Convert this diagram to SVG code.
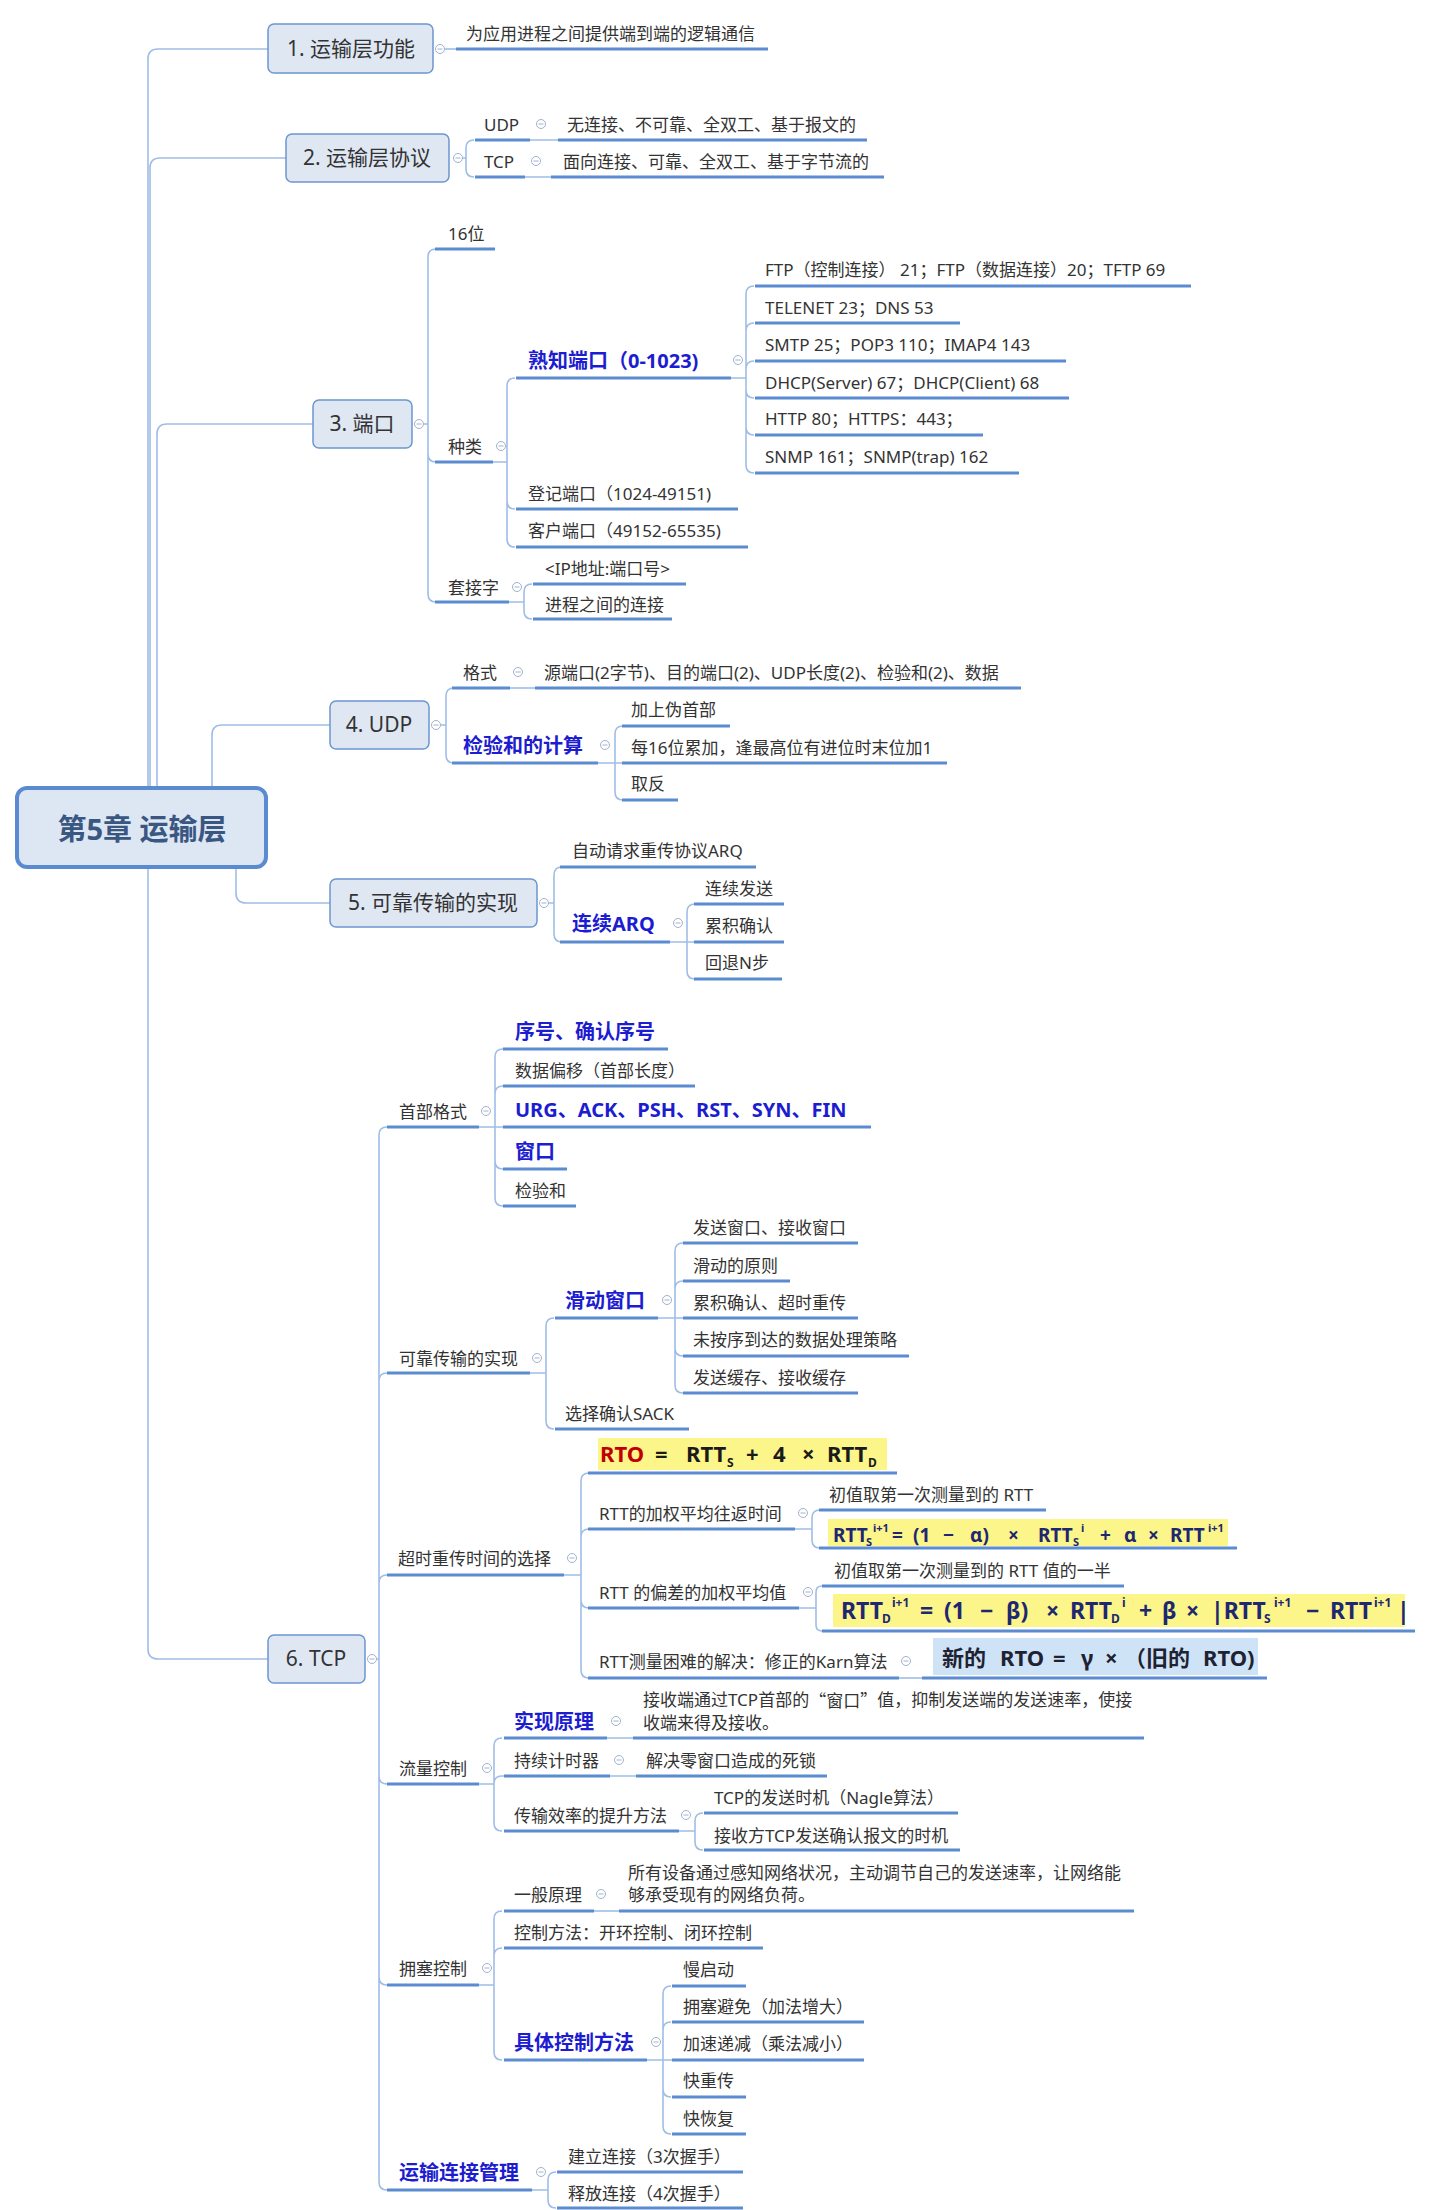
<svg xmlns="http://www.w3.org/2000/svg" xmlns:xlink="http://www.w3.org/1999/xlink" width="1434" height="2210" viewBox="0 0 1434 2210">
<style>
.c{fill:none;stroke:#9fbde6;stroke-width:1.6}
.u{fill:none;stroke:#5b8bd0;stroke-width:3}
.t{font-family:"Noto Sans","Noto Sans CJK SC",sans-serif;font-size:17px;fill:#333;dominant-baseline:central}
.k{font-size:20px;font-weight:bold;fill:#1c1cd0}
.bx{fill:#dfe7f3;stroke:#6c97cf;stroke-width:1.5}
.bt{font-size:21px;text-anchor:middle;fill:#333}
.f{font-family:"Noto Sans","Noto Sans CJK SC",sans-serif;font-weight:bold}
.sb{font-size:12px}
.cjk{font-family:"Noto Sans CJK SC",sans-serif}
.hy{fill:#fbf58a}
.hb{fill:#cfe3f6}
</style>
<defs>
<g id="cl"><circle r="4.5" fill="#fff" stroke="#a0b3cc" stroke-width="1"/><path d="M-2.5 0H2.5" stroke="#a0b3cc" stroke-width="1"/></g>
</defs>
<rect width="1434" height="2210" fill="#fff"/>

<g id="connectors">
<path class="c" d="M148 788V59Q148 49 158 49H268"/>
<path class="c" d="M150 788V168Q150 158 160 158H286"/>
<path class="c" d="M157 788V434Q157 424 167 424H313"/>
<path class="c" d="M212 788V735Q212 725 222 725H330"/>
<path class="c" d="M236 867V893Q236 903 246 903H330"/>
<path class="c" d="M148 867V1649Q148 1659 158 1659H268"/>
<path class="c" d="M444.5 49H456"/>
<path class="c" d="M462.5 158H466V148Q466 140 474 140M466 158V169Q466 177 474 177"/>
<path class="c" d="M530 140H558M525 177H551"/>
<path class="c" d="M423.5 424H428V257Q428 249 436 249M428 424V454Q428 462 436 462M428 424V594Q428 602 436 602"/>
<path class="c" d="M493 462H507V386Q507 378 515 378M507 462V501Q507 509 515 509M507 462V539Q507 547 515 547"/>
<path class="c" d="M731 378H746V294Q746 286 754 286M746 378V331Q746 323 754 323M746 378V369Q746 361 754 361M746 378V390Q746 398 754 398M746 378V427Q746 435 754 435M746 378V465Q746 473 754 473"/>
<path class="c" d="M509 602H524V592Q524 584 532 584M524 602V611Q524 619 532 619"/>
<path class="c" d="M440.5 725H446V696Q446 688 454 688M446 725V755Q446 763 454 763"/>
<path class="c" d="M510 688H535"/>
<path class="c" d="M598 763H615V734Q615 726 623 726M615 763H622M615 763V792Q615 800 623 800"/>
<path class="c" d="M548.5 903H554V875Q554 867 562 867M554 903V934Q554 942 562 942"/>
<path class="c" d="M670 942H687V912Q687 904 695 904M687 942H694M687 942V971Q687 979 695 979"/>
<path class="c" d="M376.5 1659H379V1135Q379 1127 387 1127M379 1659V1381Q379 1373 387 1373M379 1659V1583Q379 1575 387 1575M379 1659V1776Q379 1784 387 1784M379 1659V1977Q379 1985 387 1985M379 1659V2182Q379 2190 387 2190"/>
<path class="c" d="M479 1127H495V1057Q495 1049 503 1049M495 1127V1094Q495 1086 503 1086M495 1127H503M495 1127V1161Q495 1169 503 1169M495 1127V1198Q495 1206 503 1206"/>
<path class="c" d="M530 1373H546V1326Q546 1318 554 1318M546 1373V1421Q546 1429 554 1429"/>
<path class="c" d="M658 1318H675V1251Q675 1243 683 1243M675 1318V1289Q675 1281 683 1281M675 1318H683M675 1318V1348Q675 1356 683 1356M675 1318V1385Q675 1393 683 1393"/>
<path class="c" d="M564 1575H581V1481Q581 1473 589 1473M581 1575V1537Q581 1529 589 1529M581 1575V1600Q581 1608 589 1608M581 1575V1670Q581 1678 589 1678"/>
<path class="c" d="M795 1529H812V1518Q812 1510 820 1510M812 1529V1540Q812 1548 820 1548"/>
<path class="c" d="M799 1608H816V1592Q816 1586 822 1586M816 1608V1625Q816 1631 822 1631"/>
<path class="c" d="M899 1678H922"/>
<path class="c" d="M479 1784H494V1746Q494 1738 502 1738M494 1784Q494 1776 502 1776H504M494 1784V1823Q494 1831 502 1831"/>
<path class="c" d="M607 1738H633M610 1776H636"/>
<path class="c" d="M679 1831H695V1821Q695 1813 703 1813M695 1831V1842Q695 1850 703 1850"/>
<path class="c" d="M479 1985H494V1919Q494 1911 502 1911M494 1985V1956Q494 1948 502 1948M494 1985V2052Q494 2060 502 2060"/>
<path class="c" d="M594 1911H619"/>
<path class="c" d="M647 2060H663V1994Q663 1986 671 1986M663 2060V2030Q663 2022 671 2022M663 2060H672M663 2060V2089Q663 2097 671 2097M663 2060V2126Q663 2134 671 2134"/>
<path class="c" d="M532 2190H548V2180Q548 2172 556 2172M548 2190V2200Q548 2208 556 2208"/>
</g>

<!-- central topic -->
<g id="root">
<rect x="17" y="788" width="249" height="79" rx="10" fill="#dde6f3" stroke="#5a8ad0" stroke-width="4"/>
<text class="t" x="142" y="828" text-anchor="middle" style="font-size:29px;font-weight:bold;fill:#3a5782">第5章 运输层</text>
</g>

<!-- 1 -->
<g id="n1">
<rect class="bx" x="268" y="24" width="165" height="49" rx="6"/>
<text class="t bt" x="351" y="48">1. 运输层功能</text>
<use xlink:href="#cl" x="440" y="49"/>
</g>
<g id="n1-a"><text class="t" x="466" y="33">为应用进程之间提供端到端的逻辑通信</text><path class="u" d="M456 49H768"/></g>

<!-- 2 -->
<g id="n2">
<rect class="bx" x="286" y="134" width="163" height="48" rx="6"/>
<text class="t bt" x="367" y="157">2. 运输层协议</text>
<use xlink:href="#cl" x="458" y="158"/>
</g>
<g id="n2-udp"><text class="t" x="484" y="124">UDP</text><path class="u" d="M475 140H530"/><use xlink:href="#cl" x="541" y="124"/></g>
<g id="n2-udp-a"><text class="t" x="567" y="124">无连接、不可靠、全双工、基于报文的</text><path class="u" d="M558 140H867"/></g>
<g id="n2-tcp"><text class="t" x="484" y="161">TCP</text><path class="u" d="M475 177H525"/><use xlink:href="#cl" x="536" y="161"/></g>
<g id="n2-tcp-a"><text class="t" x="563" y="161">面向连接、可靠、全双工、基于字节流的</text><path class="u" d="M551 177H884"/></g>

<!-- 3 -->
<g id="n3">
<rect class="bx" x="313" y="400" width="99" height="48" rx="6"/>
<text class="t bt" x="362" y="423">3. 端口</text>
<use xlink:href="#cl" x="419" y="424"/>
</g>
<g id="n3-bits"><text class="t" x="448" y="233">16位</text><path class="u" d="M435 249H495"/></g>
<g id="n3-kind"><text class="t" x="448" y="446">种类</text><path class="u" d="M435 462H493"/><use xlink:href="#cl" x="501" y="446"/></g>
<g id="n3-sock"><text class="t" x="448" y="587">套接字</text><path class="u" d="M435 602H509"/><use xlink:href="#cl" x="517" y="587"/></g>
<g id="n3-well"><text class="t k" x="528" y="360">熟知端口（0-1023)</text><path class="u" d="M516 378H731"/><use xlink:href="#cl" x="738" y="360"/></g>
<g id="n3-reg"><text class="t" x="528" y="493">登记端口（1024-49151)</text><path class="u" d="M516 509H738"/></g>
<g id="n3-cli"><text class="t" x="528" y="530">客户端口（49152-65535)</text><path class="u" d="M516 547H748"/></g>
<g id="n3-ftp"><text class="t" x="765" y="269">FTP（控制连接） 21；FTP（数据连接）20；TFTP 69</text><path class="u" d="M755 286H1191"/></g>
<g id="n3-telnet"><text class="t" x="765" y="307">TELENET 23；DNS 53</text><path class="u" d="M755 323H960"/></g>
<g id="n3-smtp"><text class="t" x="765" y="344">SMTP 25；POP3 110；IMAP4 143</text><path class="u" d="M755 361H1066"/></g>
<g id="n3-dhcp"><text class="t" x="765" y="382">DHCP(Server) 67；DHCP(Client) 68</text><path class="u" d="M755 398H1069"/></g>
<g id="n3-http"><text class="t" x="765" y="418">HTTP 80；HTTPS：443；</text><path class="u" d="M755 435H983"/></g>
<g id="n3-snmp"><text class="t" x="765" y="456">SNMP 161；SNMP(trap) 162</text><path class="u" d="M755 473H1019"/></g>
<g id="n3-ip"><text class="t" x="545" y="568">&lt;IP地址:端口号&gt;</text><path class="u" d="M533 584H686"/></g>
<g id="n3-proc"><text class="t" x="545" y="604">进程之间的连接</text><path class="u" d="M533 619H672"/></g>

<!-- 4 -->
<g id="n4">
<rect class="bx" x="330" y="701" width="99" height="48" rx="6"/>
<text class="t bt" x="379" y="724">4. UDP</text>
<use xlink:href="#cl" x="436" y="725"/>
</g>
<g id="n4-fmt"><text class="t" x="463" y="672">格式</text><path class="u" d="M452 688H510"/><use xlink:href="#cl" x="518" y="672"/></g>
<g id="n4-fmt-a"><text class="t" x="544" y="672">源端口(2字节)、目的端口(2)、UDP长度(2)、检验和(2)、数据</text><path class="u" d="M535 688H1021"/></g>
<g id="n4-sum"><text class="t k" x="463" y="745">检验和的计算</text><path class="u" d="M452 763H598"/><use xlink:href="#cl" x="605" y="745"/></g>
<g id="n4-sum-1"><text class="t" x="631" y="709">加上伪首部</text><path class="u" d="M622 726H730"/></g>
<g id="n4-sum-2"><text class="t" x="631" y="747">每16位累加，逢最高位有进位时末位加1</text><path class="u" d="M622 763H947"/></g>
<g id="n4-sum-3"><text class="t" x="631" y="783">取反</text><path class="u" d="M622 800H678"/></g>

<!-- 5 -->
<g id="n5">
<rect class="bx" x="330" y="879" width="207" height="48" rx="6"/>
<text class="t bt" x="433" y="902">5. 可靠传输的实现</text>
<use xlink:href="#cl" x="544" y="903"/>
</g>
<g id="n5-arq"><text class="t" x="572" y="850">自动请求重传协议ARQ</text><path class="u" d="M560 867H756"/></g>
<g id="n5-carq"><text class="t k" x="572" y="923">连续ARQ</text><path class="u" d="M560 942H670"/><use xlink:href="#cl" x="678" y="923"/></g>
<g id="n5-c1"><text class="t" x="705" y="888">连续发送</text><path class="u" d="M694 904H784"/></g>
<g id="n5-c2"><text class="t" x="705" y="925">累积确认</text><path class="u" d="M694 942H784"/></g>
<g id="n5-c3"><text class="t" x="705" y="962">回退N步</text><path class="u" d="M694 979H782"/></g>

<!-- 6 -->
<g id="n6">
<rect class="bx" x="268" y="1635" width="97" height="48" rx="6"/>
<text class="t bt" x="316" y="1658">6. TCP</text>
<use xlink:href="#cl" x="372" y="1659"/>
</g>
<g id="n6-hdr"><text class="t" x="399" y="1111">首部格式</text><path class="u" d="M387 1127H479"/><use xlink:href="#cl" x="486" y="1111"/></g>
<g id="n6-hdr-1"><text class="t k" x="515" y="1031">序号、确认序号</text><path class="u" d="M503 1049H668"/></g>
<g id="n6-hdr-2"><text class="t" x="515" y="1070">数据偏移（首部长度）</text><path class="u" d="M503 1086H695"/></g>
<g id="n6-hdr-3"><text class="t k" x="515" y="1109">URG、ACK、PSH、RST、SYN、FIN</text><path class="u" d="M503 1127H871"/></g>
<g id="n6-hdr-4"><text class="t k" x="515" y="1151">窗口</text><path class="u" d="M503 1169H567"/></g>
<g id="n6-hdr-5"><text class="t" x="515" y="1190">检验和</text><path class="u" d="M503 1206H576"/></g>

<g id="n6-rel"><text class="t" x="399" y="1358">可靠传输的实现</text><path class="u" d="M387 1373H530"/><use xlink:href="#cl" x="537" y="1358"/></g>
<g id="n6-win"><text class="t k" x="565" y="1300">滑动窗口</text><path class="u" d="M555 1318H658"/><use xlink:href="#cl" x="667" y="1300"/></g>
<g id="n6-win-1"><text class="t" x="693" y="1227">发送窗口、接收窗口</text><path class="u" d="M683 1243H858"/></g>
<g id="n6-win-2"><text class="t" x="693" y="1265">滑动的原则</text><path class="u" d="M683 1281H790"/></g>
<g id="n6-win-3"><text class="t" x="693" y="1302">累积确认、超时重传</text><path class="u" d="M683 1318H858"/></g>
<g id="n6-win-4"><text class="t" x="693" y="1339">未按序到达的数据处理策略</text><path class="u" d="M683 1356H909"/></g>
<g id="n6-win-5"><text class="t" x="693" y="1377">发送缓存、接收缓存</text><path class="u" d="M683 1393H858"/></g>
<g id="n6-sack"><text class="t" x="565" y="1413">选择确认SACK</text><path class="u" d="M555 1429H689"/></g>

<g id="n6-rto"><text class="t" x="398" y="1558">超时重传时间的选择</text><path class="u" d="M387 1575H564"/><use xlink:href="#cl" x="572" y="1558"/></g>
<g id="n6-rto-f">
<rect class="hy" x="598" y="1438" width="289" height="32"/>
<text class="f" y="1462" style="font-size:22px;fill:#1a1a1a"><tspan x="600" fill="#c00000">RTO</tspan><tspan x="655">=</tspan><tspan x="686">RTT</tspan><tspan class="sb" x="727" y="1467">S</tspan><tspan x="746" y="1462">+</tspan><tspan x="773">4</tspan><tspan x="802">×</tspan><tspan x="827">RTT</tspan><tspan class="sb" x="868" y="1467">D</tspan></text>
<path class="u" d="M588 1473H897"/>
</g>
<g id="n6-rtts"><text class="t" x="599" y="1513">RTT的加权平均往返时间</text><path class="u" d="M588 1529H795"/><use xlink:href="#cl" x="803" y="1513"/></g>
<g id="n6-rtts-1"><text class="t" x="829" y="1494">初值取第一次测量到的 RTT</text><path class="u" d="M819 1510H1046"/></g>
<g id="n6-rtts-f">
<rect class="hy" x="828" y="1519" width="400" height="27"/>
<text class="f" y="1542" style="font-size:19px;fill:#1e2770"><tspan x="833">RTT</tspan><tspan x="866" y="1546" style="font-size:11px">S</tspan><tspan x="873" y="1532" style="font-size:11px">i+1</tspan><tspan x="892" y="1542">=</tspan><tspan x="913">(1</tspan><tspan x="943">−</tspan><tspan x="970">α)</tspan><tspan x="1008">×</tspan><tspan x="1038">RTT</tspan><tspan x="1073" y="1546" style="font-size:11px">S</tspan><tspan x="1081" y="1532" style="font-size:11px">i</tspan><tspan x="1100" y="1542">+</tspan><tspan x="1124">α</tspan><tspan x="1148">×</tspan><tspan x="1170">RTT</tspan><tspan x="1208" y="1532" style="font-size:11px">i+1</tspan></text>
<path class="u" d="M819 1548H1237"/>
</g>
<g id="n6-rttd"><text class="t" x="599" y="1592">RTT 的偏差的加权平均值</text><path class="u" d="M588 1608H799"/><use xlink:href="#cl" x="808" y="1592"/></g>
<g id="n6-rttd-1"><text class="t" x="834" y="1570">初值取第一次测量到的 RTT 值的一半</text><path class="u" d="M822 1586H1124"/></g>
<g id="n6-rttd-f">
<rect class="hy" x="833" y="1594" width="572" height="33"/>
<text class="f" y="1619" style="font-size:23px;fill:#1e2770"><tspan x="841">RTT</tspan><tspan class="sb" x="882" y="1623">D</tspan><tspan class="sb" x="892" y="1607">i+1</tspan><tspan x="920" y="1619">=</tspan><tspan x="944">(1</tspan><tspan x="980">−</tspan><tspan x="1006">β)</tspan><tspan x="1046">×</tspan><tspan x="1070">RTT</tspan><tspan class="sb" x="1111" y="1623">D</tspan><tspan class="sb" x="1122" y="1607">i</tspan><tspan x="1139" y="1619">+</tspan><tspan x="1162">β</tspan><tspan x="1186">×</tspan><tspan x="1211">|RTT</tspan><tspan class="sb" x="1264" y="1623">S</tspan><tspan class="sb" x="1274" y="1607">i+1</tspan><tspan x="1306" y="1619">−</tspan><tspan x="1330">RTT</tspan><tspan class="sb" x="1374" y="1607">i+1</tspan><tspan x="1397" y="1619">|</tspan></text>
<path class="u" d="M822 1631H1415"/>
</g>
<g id="n6-karn"><text class="t" x="599" y="1661">RTT测量困难的解决：修正的Karn算法</text><path class="u" d="M588 1678H899"/><use xlink:href="#cl" x="906" y="1661"/></g>
<g id="n6-karn-f">
<rect class="hb" x="933" y="1638" width="325" height="37"/>
<text class="f" y="1666" style="font-size:22px;fill:#1f2233"><tspan x="942">新的</tspan><tspan x="1000">RTO</tspan><tspan x="1053">=</tspan><tspan x="1081">γ</tspan><tspan x="1105">×</tspan><tspan x="1124">（旧的</tspan><tspan x="1203">RTO)</tspan></text>
<path class="u" d="M922 1678H1267"/>
</g>

<g id="n6-flow"><text class="t" x="399" y="1768">流量控制</text><path class="u" d="M387 1784H479"/><use xlink:href="#cl" x="487" y="1768"/></g>
<g id="n6-flow-1"><text class="t k" x="514" y="1721">实现原理</text><path class="u" d="M504 1738H607"/><use xlink:href="#cl" x="616" y="1721"/></g>
<g id="n6-flow-1a"><text class="t" x="643" y="1699">接收端通过TCP首部的<tspan class="cjk">“窗口”</tspan>值，抑制发送端的发送速率，使接</text><text class="t" x="643" y="1722">收端来得及接收。</text><path class="u" d="M633 1738H1144"/></g>
<g id="n6-flow-2"><text class="t" x="514" y="1760">持续计时器</text><path class="u" d="M504 1776H610"/><use xlink:href="#cl" x="619" y="1760"/></g>
<g id="n6-flow-2a"><text class="t" x="646" y="1760">解决零窗口造成的死锁</text><path class="u" d="M636 1776H827"/></g>
<g id="n6-flow-3"><text class="t" x="514" y="1815">传输效率的提升方法</text><path class="u" d="M504 1831H679"/><use xlink:href="#cl" x="686" y="1815"/></g>
<g id="n6-flow-3a"><text class="t" x="714" y="1797">TCP的发送时机（Nagle算法）</text><path class="u" d="M704 1813H958"/></g>
<g id="n6-flow-3b"><text class="t" x="714" y="1835">接收方TCP发送确认报文的时机</text><path class="u" d="M704 1850H960"/></g>

<g id="n6-cong"><text class="t" x="399" y="1968">拥塞控制</text><path class="u" d="M387 1985H479"/><use xlink:href="#cl" x="487" y="1968"/></g>
<g id="n6-cong-1"><text class="t" x="514" y="1894">一般原理</text><path class="u" d="M504 1911H594"/><use xlink:href="#cl" x="601" y="1894"/></g>
<g id="n6-cong-1a"><text class="t" x="628" y="1872">所有设备通过感知网络状况，主动调节自己的发送速率，让网络能</text><text class="t" x="628" y="1894">够承受现有的网络负荷。</text><path class="u" d="M619 1911H1134"/></g>
<g id="n6-cong-2"><text class="t" x="514" y="1932">控制方法：开环控制、闭环控制</text><path class="u" d="M504 1948H763"/></g>
<g id="n6-cong-3"><text class="t k" x="514" y="2042">具体控制方法</text><path class="u" d="M504 2060H647"/><use xlink:href="#cl" x="656" y="2042"/></g>
<g id="n6-cong-3a"><text class="t" x="683" y="1969">慢启动</text><path class="u" d="M672 1986H746"/></g>
<g id="n6-cong-3b"><text class="t" x="683" y="2006">拥塞避免（加法增大）</text><path class="u" d="M672 2022H864"/></g>
<g id="n6-cong-3c"><text class="t" x="683" y="2043">加速递减（乘法减小）</text><path class="u" d="M672 2060H864"/></g>
<g id="n6-cong-3d"><text class="t" x="683" y="2080">快重传</text><path class="u" d="M672 2097H746"/></g>
<g id="n6-cong-3e"><text class="t" x="683" y="2118">快恢复</text><path class="u" d="M672 2134H746"/></g>

<g id="n6-conn"><text class="t k" x="399" y="2172">运输连接管理</text><path class="u" d="M387 2190H532"/><use xlink:href="#cl" x="541" y="2172"/></g>
<g id="n6-conn-1"><text class="t" x="568" y="2156">建立连接（3次握手）</text><path class="u" d="M557 2172H743"/></g>
<g id="n6-conn-2"><text class="t" x="568" y="2193">释放连接（4次握手）</text><path class="u" d="M557 2208H743"/></g>
</svg>
